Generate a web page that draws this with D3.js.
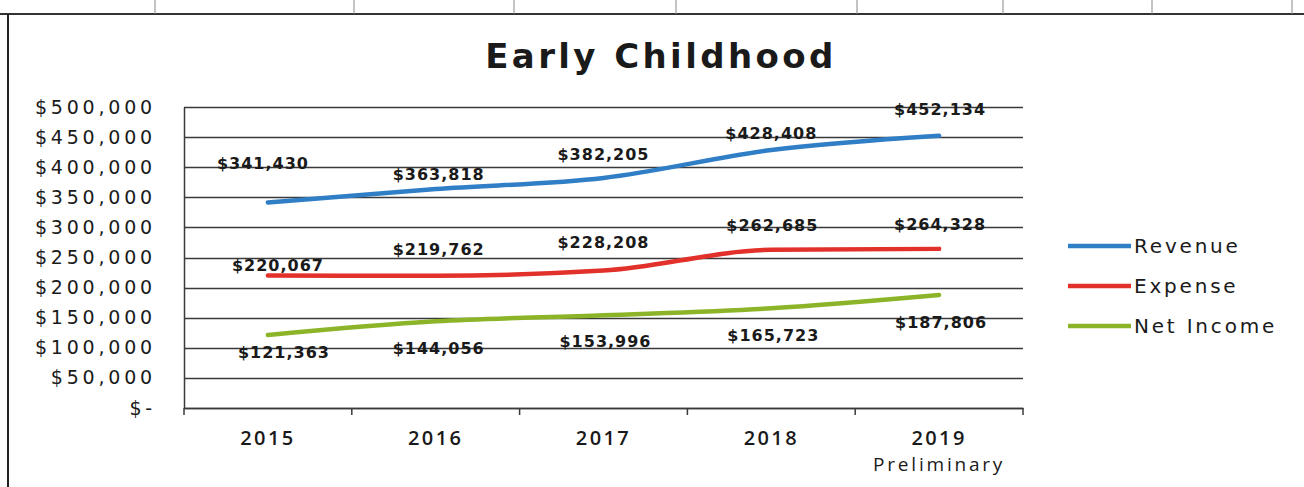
<!DOCTYPE html>
<html>
<head>
<meta charset="utf-8">
<script src="https://cdn.jsdelivr.net/npm/d3@7/dist/d3.min.js"></script>
<style>
  html, body { margin: 0; padding: 0; background: #fff; }
  svg { display: block; }
</style>
</head>
<body>
<svg id="chart" width="1304" height="487"></svg>
<script>
// Early Childhood financials by fiscal year
const years = ["2015", "2016", "2017", "2018", "2019"];
const yearSubLabels = ["", "", "", "", "Preliminary"];
const revenue = [341430, 363818, 382205, 428408, 452134];
const expense = [220067, 219762, 228208, 262685, 264328];
const netIncome = [121363, 144056, 153996, 165723, 187806];
const yTicks = [0, 50000, 100000, 150000, 200000, 250000, 300000, 350000, 400000, 450000, 500000];
const seriesNames = ["Revenue", "Expense", "Net Income"];
const seriesColors = ["#2f7ec6", "#e2302a", "#8cb429"];

// Data-label placement (dx, dy in px relative to each point)
const labelOffsets = [
  [[-5, -39], [3, -15], [0, -24], [0, -17], [1, -26]],
  [[10, -10], [3, -26], [0, -28], [1, -24], [1, -24]],
  [[16, 17], [3, 27], [2, 26], [2, 27], [2, 27]]
];

const svg = d3.select("#chart");
const W = 1304, H = 487;

// worksheet frame behind the chart
const sheetCols = [155, 354, 514, 676, 857, 1003, 1152, 1292];
svg.append("line").attr("x1", 0).attr("x2", W).attr("y1", 14).attr("y2", 14)
  .attr("stroke", "#333").attr("stroke-width", 2);
svg.selectAll(".sheetcol").data(sheetCols).join("line")
  .attr("x1", d => d).attr("x2", d => d).attr("y1", 0).attr("y2", 14)
  .attr("stroke", "#888").attr("stroke-width", 1);
svg.append("line").attr("x1", 8).attr("x2", 8).attr("y1", 14).attr("y2", H)
  .attr("stroke", "#222").attr("stroke-width", 2);

const plot = { left: 184, right: 1023, top: 107, bottom: 408 };

const x = d3.scaleBand().domain(years).range([plot.left, plot.right]).padding(0);
const y = d3.scaleLinear().domain([0, 500000]).range([plot.bottom, plot.top]);

// title
svg.append("text")
  .attr("x", 661).attr("y", 68)
  .attr("text-anchor", "middle")
  .attr("font-family", "'DejaVu Sans', Verdana, sans-serif")
  .attr("font-weight", 700)
  .attr("font-size", 34)
  .attr("letter-spacing", 3.4)
  .attr("fill", "#1a1a1a")
  .text("Early Childhood");

// horizontal gridlines
svg.append("g")
  .selectAll("line").data(yTicks).join("line")
  .attr("x1", plot.left).attr("x2", plot.right)
  .attr("y1", d => Math.round(y(d)) + 0.5).attr("y2", d => Math.round(y(d)) + 0.5)
  .attr("stroke", "#3a3a3a").attr("stroke-width", 1.4);

// y axis
const fmt = d3.format(",");
const yAxis = d3.axisLeft(y).tickValues(yTicks).tickSize(0).tickPadding(0)
  .tickFormat(d => d === 0 ? "$-" : "$" + fmt(d));
const gy = svg.append("g").attr("transform", `translate(${plot.left},0)`).call(yAxis);
gy.select(".domain").attr("stroke", "#3a3a3a").attr("stroke-width", 1.5);
gy.selectAll("text")
  .attr("x", -28)
  .attr("font-family", "'DejaVu Sans', Verdana, sans-serif")
  .attr("font-size", 19)
  .attr("letter-spacing", 3.8)
  .attr("fill", "#1a1a1a");

// x axis
const xAxis = d3.axisBottom(x).tickSize(0).tickPadding(0);
const gx = svg.append("g").attr("transform", `translate(0,${plot.bottom})`).call(xAxis);
gx.select(".domain").attr("stroke", "#3a3a3a").attr("stroke-width", 1.5);
gx.selectAll(".tick text")
  .attr("y", 23)
  .attr("font-family", "'Open Sans', 'Noto Sans', sans-serif")
  .attr("font-weight", 600)
  .attr("font-size", 20)
  .attr("letter-spacing", 2.4)
  .attr("fill", "#1a1a1a");
gx.selectAll(".tick").append("text")
  .attr("y", 63)
  .attr("text-anchor", "middle")
  .attr("font-family", "'Open Sans', 'Noto Sans', sans-serif")
  .attr("font-size", 19)
  .attr("letter-spacing", 2.8)
  .attr("fill", "#1a1a1a")
  .text((d, i) => yearSubLabels[i]);
// category boundary ticks
const bounds = years.map(d => x(d)).concat([plot.right]);
svg.append("g").selectAll("line").data(bounds).join("line")
  .attr("x1", d => d).attr("x2", d => d)
  .attr("y1", plot.bottom).attr("y2", plot.bottom + 7)
  .attr("stroke", "#3a3a3a").attr("stroke-width", 1.5);

// series lines
const series = [revenue, expense, netIncome];
const cx = i => x(years[i]) + x.bandwidth() / 2;
const line = d3.line()
  .x((d, i) => cx(i))
  .y(d => y(d))
  .curve(d3.curveMonotoneX);

svg.append("g").selectAll("path").data(series).join("path")
  .attr("d", d => line(d))
  .attr("fill", "none")
  .attr("stroke", (d, i) => seriesColors[i])
  .attr("stroke-width", 4.5)
  .attr("stroke-linecap", "round");

// data labels
series.forEach((vals, si) => {
  svg.append("g").selectAll("text").data(vals).join("text")
    .attr("x", (d, i) => cx(i) + labelOffsets[si][i][0])
    .attr("y", (d, i) => y(d) + labelOffsets[si][i][1])
    .attr("dy", "0.35em")
    .attr("text-anchor", "middle")
    .attr("font-family", "'DejaVu Sans', Verdana, sans-serif")
    .attr("font-weight", 700)
    .attr("font-size", 16)
    .attr("letter-spacing", 1)
    .attr("fill", "#1a1a1a")
    .text(d => "$" + fmt(d));
});

// legend
const legend = svg.append("g");
seriesNames.forEach((name, i) => {
  const ly = 246 + i * 40;
  legend.append("line")
    .attr("x1", 1068).attr("x2", 1131).attr("y1", ly).attr("y2", ly)
    .attr("stroke", seriesColors[i]).attr("stroke-width", 4.5);
  legend.append("text")
    .attr("x", 1134).attr("y", ly).attr("dy", "0.35em")
    .attr("font-family", "'DejaVu Sans', Verdana, sans-serif")
    .attr("font-size", 20)
    .attr("letter-spacing", 2.8)
    .attr("fill", "#1a1a1a")
    .text(name);
});
</script>
</body>
</html>
